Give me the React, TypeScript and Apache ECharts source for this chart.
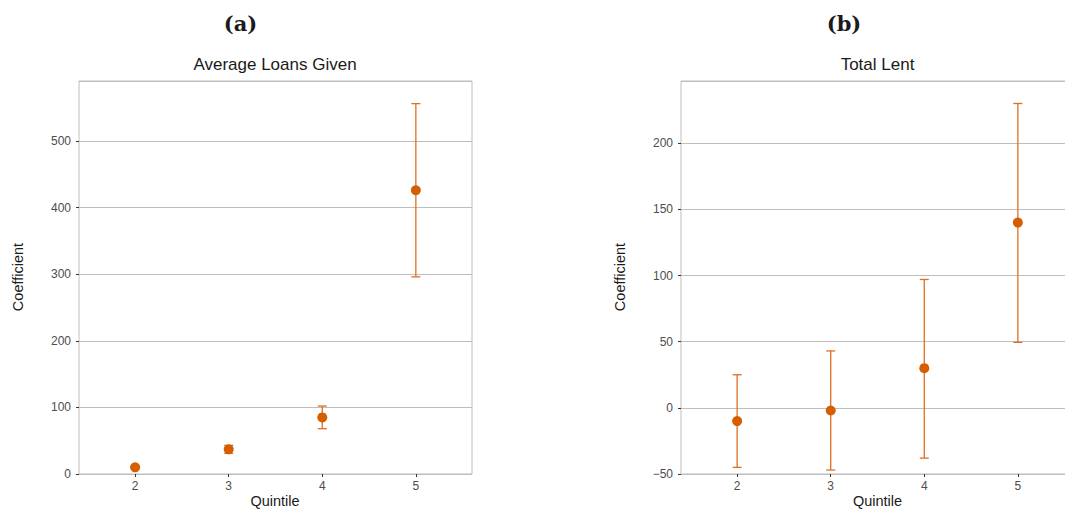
import React, { useEffect, useRef } from "react";
import * as echarts from "echarts";

const quintiles = [2, 3, 4, 5];
const loansCoef = [10, 37, 85, 426];
const loansLow = [9, 31, 68, 296];
const loansHigh = [11, 43, 102, 556];
const lentCoef = [-10, -2, 30, 140];
const lentLow = [-45, -47, -38, 49.5];
const lentHigh = [25, 43, 97, 230];
const xTicks = [2, 3, 4, 5];

const POINT = "#D55E00";
const BAR = "#DF6E22";
const GRID = "#BEBEBE";
const SANS = "'Liberation Sans', Arial, sans-serif";

function errRender(params: any, api: any) {
  const x = api.value(0);
  const lo = api.coord([x, api.value(1)]);
  const hi = api.coord([x, api.value(2)]);
  const w = 4.5;
  const style = { stroke: BAR, lineWidth: 1.3 };
  return {
    type: "group",
    children: [
      { type: "line", shape: { x1: lo[0], y1: lo[1], x2: hi[0], y2: hi[1] }, style },
      { type: "line", shape: { x1: lo[0] - w, y1: lo[1], x2: lo[0] + w, y2: lo[1] }, style },
      { type: "line", shape: { x1: hi[0] - w, y1: hi[1], x2: hi[0] + w, y2: hi[1] }, style },
    ],
  };
}

function xAxisCfg(gridIndex: number) {
  return {
    type: "value",
    gridIndex,
    min: 1.4,
    max: 5.6,
    axisLine: { show: false, onZero: false },
    axisTick: { show: true, length: 3, customValues: xTicks, lineStyle: { color: "#333" } },
    axisLabel: { customValues: xTicks, margin: 6, color: "#4d4d4d", fontSize: 12, fontFamily: SANS },
    splitLine: { show: false },
  };
}

function yAxisCfg(gridIndex: number, min: number, max: number, interval: number) {
  return {
    type: "value",
    gridIndex,
    min,
    max,
    interval,
    axisLine: { show: false, onZero: false },
    axisTick: { show: true, length: 3, lineStyle: { color: "#333" } },
    axisLabel: {
      margin: 8,
      color: "#4d4d4d",
      fontSize: 12,
      fontFamily: SANS,
      showMaxLabel: false,
      formatter: (v: number) => String(v).replace("-", "\u2212"),
    },
    splitLine: { show: true, lineStyle: { color: GRID, width: 1 } },
  };
}

function txt(text: string, x: number, y: number, font: any, rotation = 0) {
  return {
    type: "text",
    x,
    y,
    rotation,
    style: {
      text,
      align: "center",
      verticalAlign: "middle",
      fill: "#1a1a1a",
      ...font,
    },
  };
}

export default function App() {
  const ref = useRef<HTMLDivElement>(null);
  useEffect(() => {
    if (!ref.current) return;
    const chart = echarts.init(ref.current, undefined, { renderer: "svg" });
    const lab = { fontSize: 14.5, fontFamily: SANS };
    const sub = { fontSize: 17, fontFamily: SANS };
    const head = { fontSize: 21, fontFamily: "'DejaVu Serif', serif", fontWeight: "bold" };
    chart.setOption({
      animation: false,
      grid: [
        { left: 79, top: 81, width: 393, height: 393, show: true, borderColor: GRID, borderWidth: 1, backgroundColor: "#fff" },
        { left: 681, top: 81, width: 393, height: 393, show: true, borderColor: GRID, borderWidth: 1, backgroundColor: "#fff" },
      ],
      xAxis: [xAxisCfg(0), xAxisCfg(1)],
      yAxis: [yAxisCfg(0, 0, 590, 100), yAxisCfg(1, -50, 247, 50)],
      series: [
        {
          type: "custom",
          xAxisIndex: 0,
          yAxisIndex: 0,
          renderItem: errRender,
          encode: { x: 0, y: [1, 2] },
          data: quintiles.map((q, i) => [q, loansLow[i], loansHigh[i]]),
          z: 2,
        },
        {
          type: "scatter",
          xAxisIndex: 0,
          yAxisIndex: 0,
          symbolSize: 10,
          itemStyle: { color: POINT, opacity: 1 },
          data: quintiles.map((q, i) => [q, loansCoef[i]]),
          z: 3,
        },
        {
          type: "custom",
          xAxisIndex: 1,
          yAxisIndex: 1,
          renderItem: errRender,
          encode: { x: 0, y: [1, 2] },
          data: quintiles.map((q, i) => [q, lentLow[i], lentHigh[i]]),
          z: 2,
        },
        {
          type: "scatter",
          xAxisIndex: 1,
          yAxisIndex: 1,
          symbolSize: 10,
          itemStyle: { color: POINT, opacity: 1 },
          data: quintiles.map((q, i) => [q, lentCoef[i]]),
          z: 3,
        },
      ],
      graphic: [
        txt("(a)", 240.5, 23, head),
        txt("(b)", 844, 23, head),
        txt("Average Loans Given", 275, 64.5, sub),
        txt("Total Lent", 877.5, 64.5, sub),
        txt("Quintile", 275, 501, lab),
        txt("Quintile", 877.5, 501, lab),
        txt("Coefficient", 18, 277, lab, Math.PI / 2),
        txt("Coefficient", 620, 277, lab, Math.PI / 2),
      ],
    });
    return () => chart.dispose();
  }, []);
  return (
    <div
      style={{ position: "fixed", left: 0, top: 0, width: 1065, height: 514, overflow: "hidden", background: "#fff" }}
    >
      <div ref={ref} style={{ width: 1085, height: 514 }} />
    </div>
  );
}
